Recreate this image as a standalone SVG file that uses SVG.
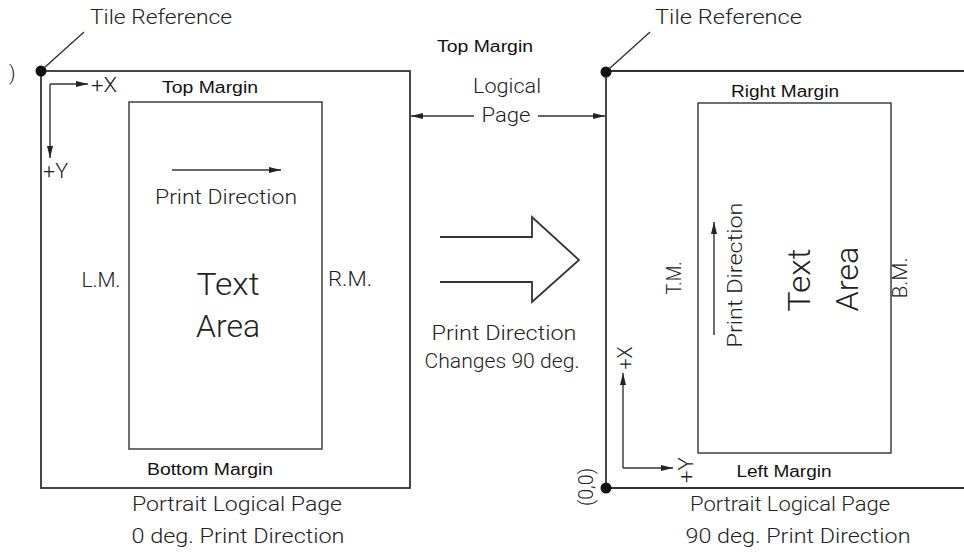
<svg xmlns="http://www.w3.org/2000/svg" width="964" height="556" viewBox="0 0 964 556">
  <style>
    .ln { fill: none; stroke: #333; stroke-width: 1.8; }
    .thin { fill: none; stroke: #333; stroke-width: 1.4; }
    .lt { font-family: Roboto, "Liberation Sans", sans-serif; font-weight: 300; font-size: 20px; fill: #222; }
    .big { font-family: Roboto, "Liberation Sans", sans-serif; font-weight: 300; font-size: 31px; fill: #222; }
    .mg { font-family: "Liberation Sans", Arial, sans-serif; font-size: 16px; fill: #111; }
    .dot { fill: #111; }
  </style>
  <defs>
    <marker id="ah" viewBox="0 0 12 6" refX="12" refY="3" markerWidth="12" markerHeight="6" markerUnits="userSpaceOnUse" orient="auto-start-reverse">
      <path d="M0,0 L12,3 L0,6 z" fill="#222"/>
    </marker>
  </defs>

  <!-- left page: 0 deg. print direction -->
  <g id="page-left">
    <rect class="ln" x="41" y="71" width="369" height="417"/>
    <rect class="thin" x="129" y="102" width="193" height="347"/>
    <circle class="dot" cx="41" cy="71" r="5.5"/>
    <text class="lt" x="9" y="80">)</text>
    <text class="lt" x="90" y="24" textLength="142" lengthAdjust="spacingAndGlyphs">Tile Reference</text>
    <text class="lt" x="91" y="92" textLength="26" lengthAdjust="spacingAndGlyphs">+X</text>
    <text class="lt" x="43" y="178" textLength="25" lengthAdjust="spacingAndGlyphs">+Y</text>
    <text class="mg" x="210" y="93" text-anchor="middle" textLength="96" lengthAdjust="spacingAndGlyphs">Top Margin</text>
    <text class="lt" x="226" y="204" text-anchor="middle" textLength="142" lengthAdjust="spacingAndGlyphs">Print Direction</text>
    <text class="lt" x="101" y="287" text-anchor="middle" textLength="39" lengthAdjust="spacingAndGlyphs">L.M.</text>
    <text class="lt" x="350" y="286" text-anchor="middle" textLength="44" lengthAdjust="spacingAndGlyphs">R.M.</text>
    <text class="big" x="228" y="295" text-anchor="middle" textLength="63" lengthAdjust="spacingAndGlyphs">Text</text>
    <text class="big" x="228" y="337" text-anchor="middle" textLength="64" lengthAdjust="spacingAndGlyphs">Area</text>
    <text class="mg" x="210" y="475" text-anchor="middle" textLength="126" lengthAdjust="spacingAndGlyphs">Bottom Margin</text>
    <text class="lt" x="237" y="511" text-anchor="middle" textLength="210" lengthAdjust="spacingAndGlyphs">Portrait Logical Page</text>
    <text class="lt" x="238" y="543" text-anchor="middle" textLength="213" lengthAdjust="spacingAndGlyphs">0 deg. Print Direction</text>
  </g>

  <!-- middle labels and direction change arrow -->
  <g id="middle">
    <text class="mg" x="485" y="52" text-anchor="middle" textLength="96" lengthAdjust="spacingAndGlyphs">Top Margin</text>
    <text class="lt" x="507" y="93" text-anchor="middle" textLength="68" lengthAdjust="spacingAndGlyphs">Logical</text>
    <text class="lt" x="506" y="122" text-anchor="middle" textLength="49" lengthAdjust="spacingAndGlyphs">Page</text>
    <path class="ln" d="M440,237 H532 V217 L579,260 L532,302 V282 H440"/>
    <text class="lt" x="504" y="340" text-anchor="middle" textLength="145" lengthAdjust="spacingAndGlyphs">Print Direction</text>
    <text class="lt" x="502" y="368" text-anchor="middle" textLength="155" lengthAdjust="spacingAndGlyphs">Changes 90 deg.</text>
  </g>

  <!-- right page: 90 deg. print direction -->
  <g id="page-right">
    <path class="ln" d="M964,71 H606 V488 H964"/>
    <rect class="thin" x="698" y="103" width="193" height="350"/>
    <circle class="dot" cx="606" cy="72" r="5.5"/>
    <circle class="dot" cx="606" cy="488" r="5.5"/>
    <text class="lt" x="655" y="24" textLength="147" lengthAdjust="spacingAndGlyphs">Tile Reference</text>
    <text class="mg" x="785" y="97" text-anchor="middle" textLength="108" lengthAdjust="spacingAndGlyphs">Right Margin</text>
    <text class="mg" x="784" y="477" text-anchor="middle" textLength="95" lengthAdjust="spacingAndGlyphs">Left Margin</text>
    <text class="lt" x="681" y="278" text-anchor="middle" transform="rotate(-90 681 278)" textLength="33" lengthAdjust="spacingAndGlyphs">T.M.</text>
    <text class="lt" x="742" y="275" text-anchor="middle" transform="rotate(-90 742 275)" textLength="145" lengthAdjust="spacingAndGlyphs">Print Direction</text>
    <text class="big" x="810" y="280" text-anchor="middle" transform="rotate(-90 810 280)" textLength="63" lengthAdjust="spacingAndGlyphs">Text</text>
    <text class="big" x="858" y="279" text-anchor="middle" transform="rotate(-90 858 279)" textLength="65" lengthAdjust="spacingAndGlyphs">Area</text>
    <text class="lt" x="907" y="278" text-anchor="middle" transform="rotate(-90 907 278)" textLength="41" lengthAdjust="spacingAndGlyphs">B.M.</text>
    <text class="lt" x="632" y="358" text-anchor="middle" transform="rotate(-90 632 358)" textLength="23" lengthAdjust="spacingAndGlyphs">+X</text>
    <text class="lt" x="693" y="470" text-anchor="middle" transform="rotate(-90 693 470)" textLength="26" lengthAdjust="spacingAndGlyphs">+Y</text>
    <text class="lt" x="593" y="487" text-anchor="middle" transform="rotate(-90 593 487)" textLength="38" lengthAdjust="spacingAndGlyphs">(0,0)</text>
    <text class="lt" x="790" y="511" text-anchor="middle" textLength="200" lengthAdjust="spacingAndGlyphs">Portrait Logical Page</text>
    <text class="lt" x="798" y="543" text-anchor="middle" textLength="225" lengthAdjust="spacingAndGlyphs">90 deg. Print Direction</text>
  </g>

  <!-- leaders, axes and direction arrows -->
  <g id="connectors">
    <line class="thin" x1="44" y1="68" x2="84" y2="32"/>
    <line class="thin" x1="609" y1="69" x2="650" y2="32"/>
    <line class="thin" x1="50" y1="84" x2="88" y2="84" marker-end="url(#ah)"/>
    <line class="thin" x1="50" y1="84" x2="50" y2="158" marker-end="url(#ah)"/>
    <line class="thin" x1="172" y1="170" x2="281" y2="170" marker-end="url(#ah)"/>
    <line class="thin" x1="474" y1="116" x2="411" y2="116" marker-end="url(#ah)"/>
    <line class="thin" x1="538" y1="116" x2="605" y2="116" marker-end="url(#ah)"/>
    <line class="thin" x1="714" y1="335" x2="714" y2="222" marker-end="url(#ah)"/>
    <line class="thin" x1="623" y1="468" x2="623" y2="373" marker-end="url(#ah)"/>
    <line class="thin" x1="623" y1="468" x2="673" y2="468" marker-end="url(#ah)"/>
  </g>
</svg>
